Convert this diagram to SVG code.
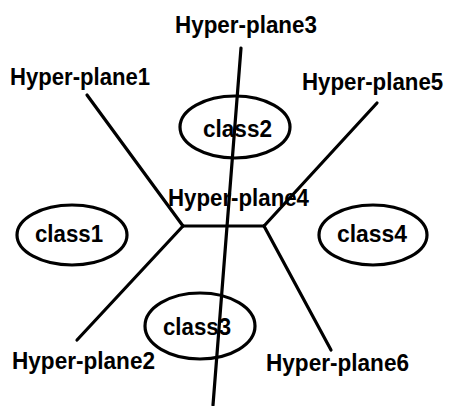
<svg xmlns="http://www.w3.org/2000/svg" width="449" height="406" viewBox="0 0 449 406">
<style>
text{font-family:"Liberation Sans",Arial,sans-serif;font-weight:bold;font-size:24px;fill:#000}
.cls{font-size:23px}
ellipse{fill:none;stroke:#000;stroke-width:3.2}
line{stroke:#000;stroke-width:3.2;stroke-linecap:round}
</style>
<rect width="449" height="406" fill="#fff"/>
<g id="connectors">
<line x1="87" y1="95" x2="183" y2="226"/>
<line x1="183" y1="226" x2="77" y2="340"/>
<line x1="183" y1="226" x2="264" y2="226"/>
<line x1="264" y1="226" x2="377" y2="103"/>
<line x1="264" y1="226" x2="331" y2="350"/>
<line x1="241" y1="48" x2="213" y2="405"/>
</g>
<g id="class1"><ellipse cx="72" cy="235" rx="55" ry="30"/><text class="cls" x="35" y="242" textLength="68" lengthAdjust="spacingAndGlyphs">class1</text></g>
<g id="class2"><ellipse cx="235" cy="127" rx="55" ry="31"/><text class="cls" x="203" y="137" textLength="69" lengthAdjust="spacingAndGlyphs">class2</text></g>
<g id="class3"><ellipse cx="200" cy="326" rx="55" ry="33"/><text class="cls" x="163" y="335" textLength="68" lengthAdjust="spacingAndGlyphs">class3</text></g>
<g id="class4"><ellipse cx="373" cy="235" rx="54" ry="30"/><text class="cls" x="337" y="242" textLength="70" lengthAdjust="spacingAndGlyphs">class4</text></g>
<g id="labels">
<text x="10" y="85" textLength="140" lengthAdjust="spacingAndGlyphs">Hyper-plane1</text>
<text x="12" y="369" textLength="143" lengthAdjust="spacingAndGlyphs">Hyper-plane2</text>
<text x="175" y="33" textLength="142" lengthAdjust="spacingAndGlyphs">Hyper-plane3</text>
<text x="168" y="206" textLength="141" lengthAdjust="spacingAndGlyphs">Hyper-plane4</text>
<text transform="translate(302,90) scale(1,1.067)" x="0" y="0" style="font-size:22.3px">Hyper-plane5</text>
<text x="266" y="371" textLength="143" lengthAdjust="spacingAndGlyphs">Hyper-plane6</text>
</g>
</svg>
